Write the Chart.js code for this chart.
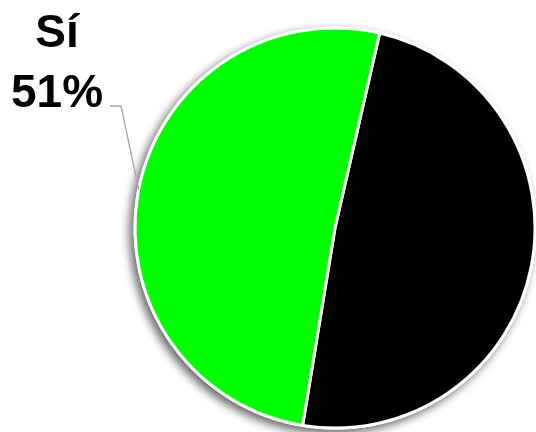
<!DOCTYPE html>
<html>
<head>
<meta charset="utf-8">
<script src="https://cdn.jsdelivr.net/npm/chart.js@4/dist/chart.umd.min.js"></script>
<style>
    html, body { margin: 0; padding: 0; background: #fff; }
    #wrap { width: 536px; height: 432px; }
</style>
</head>
<body>
<div id="wrap"><canvas id="pieChart"></canvas></div>
<script>
const labels = ['No', 'Sí'];
const values = [49, 51];
const colors = ['#000000', '#00ff00'];

// soft grey shadow behind the whole pie
const pieShadow = {
    id: 'pieShadow',
    beforeDatasetsDraw(chart) {
        const arc = chart.getDatasetMeta(0).data[0];
        if (!arc) return;
        const ctx = chart.ctx;
        ctx.save();
        ctx.shadowColor = 'rgba(0, 0, 0, 0.6)';
        ctx.shadowBlur = 10;
        ctx.shadowOffsetX = -4;
        ctx.shadowOffsetY = 4;
        ctx.fillStyle = '#ffffff';
        ctx.beginPath();
        ctx.arc(arc.x, arc.y, arc.outerRadius + 1.5, 0, Math.PI * 2);
        ctx.fill();
        ctx.restore();
    }
};

// label with leader line for the "Sí" slice
const sliceLabel = {
    id: 'sliceLabel',
    afterDatasetsDraw(chart) {
        const i = 1;
        const arc = chart.getDatasetMeta(0).data[i];
        if (!arc) return;
        const ctx = chart.ctx;
        const mid = (arc.startAngle + arc.endAngle) / 2;
        const ax = arc.x + Math.cos(mid) * arc.outerRadius;
        const ay = arc.y + Math.sin(mid) * arc.outerRadius;

        const textX = 57;
        const elbowX = 121, elbowY = 106;

        ctx.save();
        ctx.strokeStyle = '#a6a6a6';
        ctx.lineWidth = 1.3;
        ctx.beginPath();
        ctx.moveTo(ax, ay);
        ctx.lineTo(elbowX, elbowY);
        ctx.lineTo(110, elbowY);
        ctx.stroke();

        ctx.fillStyle = '#000000';
        ctx.font = 'bold 46px "Liberation Sans", Arial, sans-serif';
        ctx.textAlign = 'center';
        ctx.textBaseline = 'alphabetic';
        ctx.fillText(labels[i], textX, 47);
        ctx.fillText(values[i] + '%', textX, 107);
        ctx.restore();
    }
};

const chart = new Chart(document.getElementById('pieChart'), {
    type: 'pie',
    data: {
        labels: labels,
        datasets: [{
            data: values,
            backgroundColor: colors,
            borderColor: '#ffffff',
            borderWidth: 3
        }]
    },
    options: {
        responsive: true,
        maintainAspectRatio: false,
        animation: false,
        rotation: 12.9,
        radius: 200,
        layout: {
            padding: { left: 134, right: 0, top: 24, bottom: 0 }
        },
        plugins: {
            legend: { display: false },
            tooltip: { enabled: false }
        }
    },
    plugins: [pieShadow, sliceLabel]
});
</script>
</body>
</html>
